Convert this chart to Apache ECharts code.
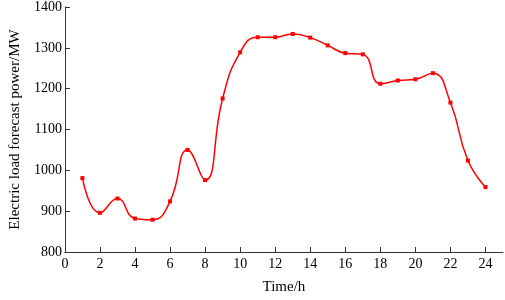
<!DOCTYPE html>
<html lang="en">
<head>
    <meta charset="utf-8">
    <title>Electric load forecast</title>
    <script src="https://cdn.jsdelivr.net/npm/echarts@6/dist/echarts.min.js"></script>
    <style>
        html, body { margin: 0; padding: 0; background: #fff; }
        #box { width: 505px; height: 300px; }
    </style>
</head>
<body>
    <div id="box"></div>
    <script>
        // hours and forecast load (MW)
        var hours = [1, 2, 3, 4, 5, 6, 7, 8, 9, 10, 11, 12, 13, 14, 15, 16, 17, 18, 19, 20, 21, 22, 23, 24];
        var loadMW = [981, 896, 931, 882, 879, 924, 1050, 976, 1176, 1289, 1326, 1326, 1334, 1325, 1306, 1287, 1284, 1212, 1220, 1223, 1238, 1166, 1024, 959];
        var xTicks = [0, 2, 4, 6, 8, 10, 12, 14, 16, 18, 20, 22, 24];

        var points = [];
        for (var i = 0; i < hours.length; i++) {
            points.push([hours[i], loadMW[i]]);
        }

        var font = 'Liberation Serif, Times New Roman, serif';
        var myChart = echarts.init(document.getElementById('box'));

        var option = {
            animation: false,
            grid: {
                left: 52,
                right: 2,
                top: 6,
                bottom: 43
            },
            xAxis: {
                type: 'value',
                min: 0,
                max: 25,
                interval: 2,
                name: 'Time/h',
                nameLocation: 'middle',
                nameGap: 28,
                nameTextStyle: { fontFamily: font, fontSize: 15, color: '#000' },
                axisLine: { lineStyle: { color: '#333', width: 1 } },
                axisTick: { inside: true, length: 5, customValues: xTicks, lineStyle: { color: '#333' } },
                axisLabel: { customValues: xTicks, fontFamily: font, fontSize: 14, color: '#000', margin: 5 },
                splitLine: { show: false }
            },
            yAxis: {
                type: 'value',
                min: 800,
                max: 1400,
                interval: 100,
                name: 'Electric load forecast power/MW',
                nameLocation: 'middle',
                nameGap: 40,
                nameTextStyle: { fontFamily: font, fontSize: 15, color: '#000' },
                axisLine: { show: true, lineStyle: { color: '#333', width: 1 } },
                axisTick: { show: true, inside: true, length: 5, lineStyle: { color: '#333' } },
                axisLabel: {
                    fontFamily: font, fontSize: 14, color: '#000', margin: 3,
                    formatter: function (v) { return String(v); }
                },
                splitLine: { show: false }
            },
            series: [
                {
                    type: 'line',
                    data: points,
                    smooth: 0.5,
                    symbol: 'rect',
                    symbolSize: 4,
                    lineStyle: { color: '#ff0000', width: 1.5 },
                    itemStyle: { color: '#ff0000' }
                }
            ]
        };
        myChart.setOption(option);
    </script>
</body>
</html>
